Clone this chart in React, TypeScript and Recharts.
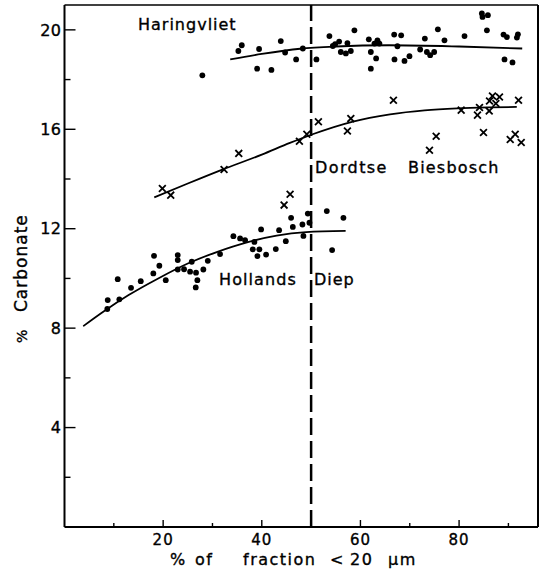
import { ComposedChart, Line, ReferenceLine, Scatter, XAxis, YAxis } from "recharts"

// sample points, [fraction < 20 µm (%), carbonate (%)]
const haringvliet: [number, number][] = [
  [27.95, 18.17], [35.25, 19.15], [35.94, 19.38], [39.05, 18.44], [39.45, 19.23], [41.95, 18.39],
  [43.85, 19.55], [44.73, 19.09], [46.96, 18.81], [48.32, 19.25], [51.08, 18.81], [53.71, 19.75],
  [54.4, 19.35], [54.87, 19.42], [55.68, 19.53], [56.02, 19.11], [57.04, 19.05], [57.36, 19.47],
  [58.05, 19.15], [58.78, 19.98], [61.7, 19.62], [62.11, 19.11], [62.11, 18.44], [62.84, 19.45],
  [63.45, 19.58], [63.85, 19.45], [63.18, 18.85], [66.84, 19.81], [66.9, 18.81], [67.5, 19.34],
  [68.26, 19.78], [68.93, 18.75], [69.94, 18.94], [72.11, 19.21], [73.06, 19.65], [73.47, 19.11],
  [74.14, 18.98], [74.95, 19.11], [75.7, 20.02], [77.04, 19.58], [81.1, 19.75], [84.62, 20.66],
  [84.75, 20.52], [85.84, 20.59], [85.64, 19.98], [89.01, 19.81], [89.7, 19.71], [89.21, 18.81],
  [90.83, 18.69], [91.93, 19.82], [91.72, 19.69],
]

const dordtseBiesbosch: [number, number][] = [
  [19.84, 13.62], [21.54, 13.35], [32.35, 14.38], [35.33, 15.03], [44.52, 12.95], [45.74, 13.39],
  [47.63, 15.52], [49.13, 15.8], [51.48, 16.3], [57.36, 15.93], [58.05, 16.43], [66.69, 17.17],
  [74.0, 15.16], [75.35, 15.72], [80.43, 16.77], [83.73, 16.57], [84.14, 16.88], [84.95, 15.87],
  [86.11, 16.74], [86.17, 17.14], [86.77, 17.34], [87.46, 17.04], [88.19, 17.3], [92.05, 17.17],
  [90.37, 15.59], [91.38, 15.8], [92.6, 15.47],
]

const hollandsDiep: [number, number][] = [
  [8.68, 8.77], [8.76, 9.13], [11.12, 9.16], [10.79, 9.97], [13.49, 9.62], [15.46, 9.89],
  [18.01, 10.2], [18.15, 10.91], [19.23, 10.51], [20.53, 9.93], [22.96, 10.94], [22.96, 10.74],
  [22.96, 10.36], [24.24, 10.37], [25.46, 10.27], [25.8, 10.67], [26.67, 10.23], [26.94, 9.93],
  [26.61, 9.64], [28.15, 10.36], [29.05, 10.71], [31.54, 10.98], [34.24, 11.7], [35.6, 11.61],
  [36.61, 11.54], [38.5, 11.47], [38.17, 11.17], [39.51, 11.17], [39.11, 10.9], [39.86, 11.97],
  [40.87, 10.96], [42.84, 11.18], [43.51, 11.94], [44.87, 11.5], [45.94, 12.44], [46.29, 12.07],
  [48.24, 12.17], [48.44, 11.71], [49.33, 12.61], [49.66, 12.24], [53.18, 12.71], [54.26, 11.14],
  [56.55, 12.44],
]

// fitted trend lines
const haringvlietFitX = [33.6, 40, 47.8, 55, 65.8, 80, 92.8]
const haringvlietFitY = [18.81, 19.03, 19.24, 19.33, 19.38, 19.33, 19.25]
const dordtseFitX = [18.2, 25, 32, 40, 45.7, 50.3, 58.3, 66, 73, 79.6, 86, 91.7]
const dordtseFitY = [13.26, 13.82, 14.38, 14.98, 15.45, 15.8, 16.3, 16.6, 16.76, 16.84, 16.88, 16.9]
const hollandsFitX = [3.8, 8, 13, 19, 25, 31, 37, 43, 49, 57]
const hollandsFitY = [8.08, 8.68, 9.33, 10.0, 10.6, 11.07, 11.45, 11.72, 11.86, 11.91]

const xTicks = [10, 20, 30, 40, 50, 60, 70, 80, 90]
const yTicks = [2, 4, 6, 8, 10, 12, 14, 16, 18, 20]
const boundary = 50

const pairs = (pts: [number, number][]) => pts.map(([x, y]) => ({ x, y }))
const curve = (xs: number[], ys: number[]) => xs.map((x, i) => ({ x, y: ys[i] }))

const FONT = "'DejaVu Sans', sans-serif"

const DotShape = (props: any) => <circle cx={props.cx} cy={props.cy} r={2.9} fill="#000" />

const CrossShape = (props: any) => {
  const { cx, cy } = props
  const s = 3.4
  return (
    <g stroke="#000" strokeWidth={1.8}>
      <line x1={cx - s} y1={cy - s} x2={cx + s} y2={cy + s} />
      <line x1={cx - s} y1={cy + s} x2={cx + s} y2={cy - s} />
    </g>
  )
}

// thin outline makes the lettering a touch heavier
const ink = { fill: "#000", stroke: "#000", strokeWidth: 0.35 }

const XTick = (props: any) => {
  const { x, y, payload } = props
  const major = payload.value % 20 === 0
  return (
    <g>
      <line x1={x} x2={x} y1={y} y2={y - (major ? 7 : 4)} stroke="#000" strokeWidth={1.4} />
      {major && (
        <text x={x} y={y + 18} textAnchor="middle" fontFamily={FONT} fontSize={15} letterSpacing={1} {...ink}>
          {payload.value}
        </text>
      )}
    </g>
  )
}

const YTick = (props: any) => {
  const { x, y, payload } = props
  const major = payload.value % 4 === 0
  return (
    <g>
      <line x1={x} x2={x + (major ? 11 : 6)} y1={y} y2={y} stroke="#000" strokeWidth={1.4} />
      {major && (
        <text x={x - 3} y={y} dy="0.36em" textAnchor="end" fontFamily={FONT} fontSize={16} letterSpacing={0.5} {...ink}>
          {payload.value}
        </text>
      )}
    </g>
  )
}

const label = { fontFamily: FONT, fontSize: 16, letterSpacing: 1, ...ink }

export default function App() {
  return (
    <div style={{ position: "relative", width: 540, height: 571, background: "#fff" }}>
      <style>{"body{margin:0}"}</style>
      <ComposedChart width={540} height={571} margin={{ top: 5, right: 2, bottom: 0, left: 0 }}>
        <XAxis
          type="number"
          dataKey="x"
          domain={[0, 96]}
          allowDataOverflow
          ticks={xTicks}
          interval={0}
          height={44}
          tickSize={0}
          tickMargin={0}
          tickLine={false}
          tick={<XTick />}
          axisLine={{ stroke: "#000", strokeWidth: 2 }}
        />
        <YAxis
          type="number"
          domain={[0, 21]}
          allowDataOverflow
          ticks={yTicks}
          interval={0}
          width={64.5}
          tickSize={0}
          tickMargin={0}
          tickLine={false}
          tick={<YTick />}
          axisLine={{ stroke: "#000", strokeWidth: 2 }}
        />
        <ReferenceLine y={21} stroke="#000" strokeWidth={1.6} />
        <ReferenceLine x={96} stroke="#000" strokeWidth={2} />
        <ReferenceLine x={boundary} stroke="#000" strokeWidth={2.5} strokeDasharray="17 6" />

        <Line data={curve(haringvlietFitX, haringvlietFitY)} dataKey="y" type="monotone" stroke="#000" strokeWidth={1.8} dot={false} activeDot={false} isAnimationActive={false} />
        <Line data={curve(dordtseFitX, dordtseFitY)} dataKey="y" type="monotone" stroke="#000" strokeWidth={1.8} dot={false} activeDot={false} isAnimationActive={false} />
        <Line data={curve(hollandsFitX, hollandsFitY)} dataKey="y" type="monotone" stroke="#000" strokeWidth={1.8} dot={false} activeDot={false} isAnimationActive={false} />

        <Scatter data={pairs(haringvliet)} dataKey="y" shape={DotShape} isAnimationActive={false} />
        <Scatter data={pairs(dordtseBiesbosch)} dataKey="y" shape={CrossShape} isAnimationActive={false} />
        <Scatter data={pairs(hollandsDiep)} dataKey="y" shape={DotShape} isAnimationActive={false} />
      </ComposedChart>

      <svg width={540} height={571} style={{ position: "absolute", left: 0, top: 0, pointerEvents: "none" }}>
        <text x={138} y={30} {...label}>Haringvliet</text>
        <text x={315} y={172.5} {...label} letterSpacing={1.4}>Dordtse</text>
        <text x={408} y={172.5} {...label} letterSpacing={1.2}>Biesbosch</text>
        <text x={219} y={285} {...label} letterSpacing={1.1}>Hollands</text>
        <text x={314} y={285} {...label}>Diep</text>

        <g {...label} letterSpacing={1.5}>
          <text x={170} y={565}>%</text>
          <text x={195} y={565}>of</text>
          <text x={243} y={565}>fraction</text>
          <text x={330} y={565}>&lt;</text>
          <text x={350} y={565}>20</text>
          <text x={388} y={565}>µm</text>
        </g>

        <g transform="rotate(-90)" fontFamily={FONT} {...ink}>
          <text x={-343} y={27} fontSize={14}>%</text>
          <text x={-312} y={27} fontSize={17} letterSpacing={1}>Carbonate</text>
        </g>
      </svg>
    </div>
  )
}
